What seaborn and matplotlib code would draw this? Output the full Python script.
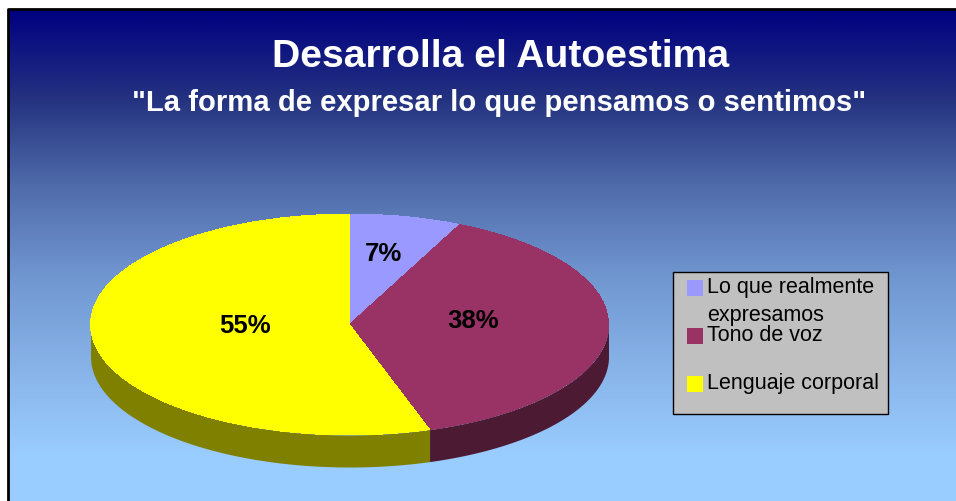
import numpy as np
import matplotlib
matplotlib.use('Agg')
import matplotlib.pyplot as plt
from matplotlib.patches import Rectangle
import seaborn as sns

# chart values
categories = ['Lo que realmente\nexpresamos', 'Tono de voz', 'Lenguaje corporal']
shares = [7, 38, 55]
top_colors = ['#9999FF', '#993366', '#FFFF00']
wall_colors = ['#4D4D80', '#4D1A33', '#808000']

title = 'Desarrolla el Autoestima'
subtitle = '"La forma de expresar lo que pensamos o sentimos"'

# label offsets from the pie centre, in pixels
label_offset = [(34, -71), (124, -4), (-104, 1)]

W, H = 956, 502
depth = 32 / 110.5

sns.set_theme(style='white')
plt.rcParams['font.family'] = ['Liberation Sans', 'DejaVu Sans']

fig = plt.figure(figsize=(W / 100, H / 100), dpi=100)
fig.patch.set_facecolor('white')

# background in pixel coordinates
bg = fig.add_axes([0, 0, 1, 1])
bg.set_xlim(0, W)
bg.set_ylim(H, 0)
bg.axis('off')

ramp = sns.blend_palette(['#000080', '#243280', '#506CAA', '#7096D0', '#87B2E8', '#99CCFF'], n_colors=256)
grad = np.array(ramp)[:, None, :]
bg.imshow(grad, extent=(9, W, 455, 10), aspect='auto', interpolation='bilinear', zorder=0)
bg.add_patch(Rectangle((9, 455), W - 9, H - 455, facecolor='#99CCFF', edgecolor='none', zorder=0))
bg.set_xlim(0, W)
bg.set_ylim(H, 0)
bg.plot([8.5, 8.5, W], [H, 9.5, 9.5], color='black', lw=2, zorder=1, solid_capstyle='butt')

bg.text(500.5, 57, title, color='white', fontsize=28.2, fontweight='bold', ha='center', va='center')
bg.text(499.5, 103, subtitle, color='white', fontsize=21.1, fontweight='bold', ha='center', va='center')

# pie axes: unit circle maps to the ellipse on the page
cx, cy, rx, ry = 349.5, 325.5, 259, 110.5
ax = fig.add_axes([(cx - rx) / W, (H - cy - ry - 32) / H, 2 * rx / W, (2 * ry + 32) / H])
wedges, _, autotexts = ax.pie(shares, colors=top_colors, startangle=90, counterclock=False,
                              autopct='%d%%', radius=1,
                              textprops={'fontsize': 18.5, 'fontweight': 'bold', 'color': 'black'},
                              wedgeprops={'linewidth': 0, 'antialiased': False})
ax.set_aspect('auto')
ax.set_xlim(-1, 1)
ax.set_ylim(-1 - depth, 1)
ax.patch.set_visible(False)

# side wall: only the front half of the ellipse shows
for w, wall in zip(wedges, wall_colors):
    a0, a1 = sorted((w.theta1, w.theta2))
    a0, a1 = np.radians(a0), np.radians(a1)
    t = np.linspace(a0, a1, 200)
    t = t[(np.sin(t) <= 0)]
    if len(t):
        ax.fill_between(np.cos(t), np.sin(t), np.sin(t) - depth, color=wall, lw=0, zorder=0.5, antialiased=False)

for txt, (dx, dy) in zip(autotexts, label_offset):
    txt.set_position((dx / rx, -dy / ry))

# legend box
bg.add_patch(Rectangle((673.5, 272.5), 215, 142, facecolor='#C0C0C0', edgecolor='black', lw=1, zorder=2))
for i, (name, col) in enumerate(zip(categories, top_colors)):
    y = 281 + 48 * i
    bg.add_patch(Rectangle((687, y), 16, 16, facecolor=col, edgecolor='none', zorder=3))
    bg.text(707, y - 4, name, fontsize=15.5, color='black', ha='left', va='top', linespacing=1.42, zorder=3)

fig.savefig('out.png', dpi=100)
